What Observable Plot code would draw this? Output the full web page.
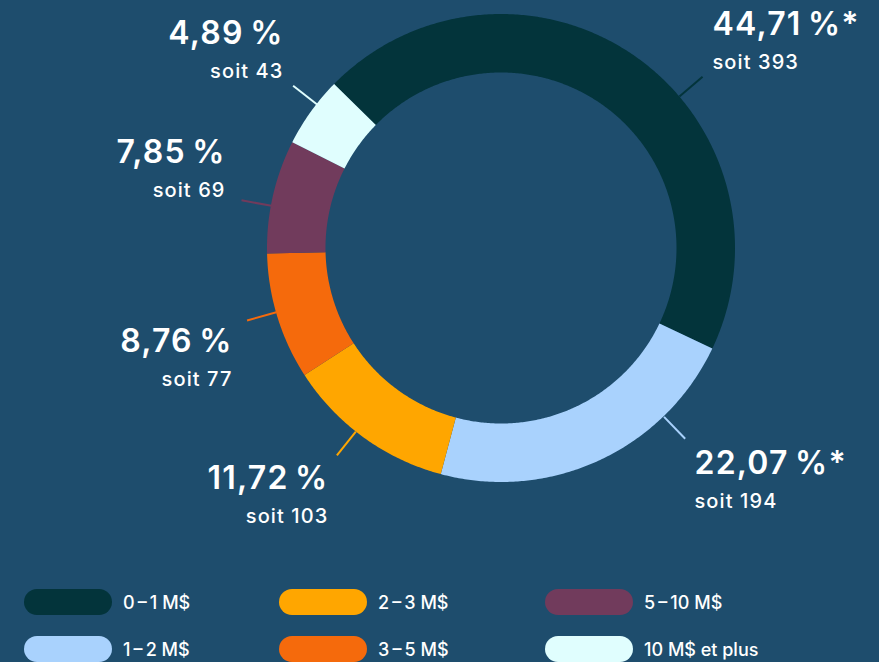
<!DOCTYPE html>
<html><head><meta charset="utf-8">
<script src="https://cdn.jsdelivr.net/npm/d3@7"></script>
<script src="https://cdn.jsdelivr.net/npm/@observablehq/plot@0.6"></script>
<style>
html,body{margin:0;padding:0;background:#1e4d6d;}
body{width:879px;height:662px;overflow:hidden;font-family:Inter,"Noto Sans",sans-serif;}
#chart svg{display:block;}
#chart g[font-size="32"]{letter-spacing:1.2px;}
#chart g[font-size="20"]{letter-spacing:1.1px;}
#legend{display:grid;grid-template-columns:255px 266px 220px;grid-template-rows:26px 26px;grid-auto-flow:column;row-gap:21px;padding-left:24px;margin-top:14px;}
.item{display:flex;align-items:center;height:26px;color:#fff;font-size:18px;font-weight:500;white-space:nowrap;}
.pill{width:88px;height:26px;border-radius:13px;margin-right:11px;flex:none;}
</style></head><body><div id="chart"></div><div id="legend"></div>
<script>
// ---- data ----
const categories = ["0\u2009\u2013\u20091 M$", "1\u2009\u2013\u20092 M$", "2\u2009\u2013\u20093 M$", "3\u2009\u2013\u20095 M$", "5\u2009\u2013\u200910 M$", "10 M$ et plus"];
const percents = [44.71, 22.07, 11.72, 8.76, 7.85, 4.89];
const counts = [393, 194, 103, 77, 69, 43];
const notes = ["*", "*", "", "", "", ""];
const colors = ["#03343b", "#a9d2fd", "#ffa600", "#f56a0c", "#713b5c", "#e0fefe"];

// ---- layout (polar, in units of outer radius) ----
const W = 879, H = 575, CX = 501, CY = 248, R = 234;
const innerR = 0.75;
const startAngle = -45.5;
const leaderAngles = [49.5, 136, 218.5, 254.2, -79.5, -52];
const leaderOuter = 1.13;
const labelAngles = [44.6, 139.5, 215.7, 249.0, -72.7, -46.9];
const labelRadii = [1.284, 1.270, 1.268, 1.231, 1.235, 1.276];
const rightSide = [true, true, false, false, false, false];

const rad = a => a * Math.PI / 180;
const px = (a, r) => r * Math.sin(rad(a));
const py = (a, r) => r * Math.cos(rad(a));

const total = d3.sum(percents);
const pts = [];
let acc = startAngle;
const rows = categories.map((cat, i) => {
  const a0 = acc, a1 = acc + percents[i] / total * 360;
  acc = a1;
  const n = Math.max(2, Math.ceil((a1 - a0) / 0.5));
  for (let k = 0; k <= n; k++) {
    const a = a0 + (a1 - a0) * k / n;
    pts.push({cat, xo: px(a, 1), yo: py(a, 1), xi: px(a, innerR), yi: py(a, innerR)});
  }
  const fmt = percents[i].toFixed(2).replace(".", ",");
  return {
    cat,
    big: fmt + "\u2009%" + notes[i],
    small: "soit " + counts[i],
    lx1: px(leaderAngles[i], 1), ly1: py(leaderAngles[i], 1),
    lx2: px(leaderAngles[i], leaderOuter), ly2: py(leaderAngles[i], leaderOuter),
    tx: px(labelAngles[i], labelRadii[i]), ty: py(labelAngles[i], labelRadii[i]),
    right: rightSide[i]
  };
});

const textMarks = (filter, anchor) => [
  Plot.text(rows.filter(filter), {x: "tx", y: "ty", text: "big", textAnchor: anchor, lineAnchor: "bottom",
    fill: "#ffffff", fontSize: 32, fontWeight: 600}),
  Plot.text(rows.filter(filter), {x: "tx", y: "ty", text: "small", textAnchor: anchor, lineAnchor: "bottom",
    dy: 34, fill: "#ffffff", fontSize: 20, fontWeight: 500})
];

const chart = Plot.plot({
  width: W, height: H,
  margin: 0,
  style: {background: "transparent", fontFamily: "Inter, 'Noto Sans', sans-serif"},
  x: {domain: [-CX / R, (W - CX) / R], range: [0, W], axis: null},
  y: {domain: [-(H - CY) / R, CY / R], range: [H, 0], axis: null},
  color: {domain: categories, range: colors},
  marks: [
    Plot.area(pts, {x1: "xo", y1: "yo", x2: "xi", y2: "yi", z: "cat", fill: "cat"}),
    Plot.link(rows, {x1: "lx1", y1: "ly1", x2: "lx2", y2: "ly2", stroke: "cat", strokeWidth: 2}),
    ...textMarks(d => d.right, "start"),
    ...textMarks(d => !d.right, "end")
  ]
});
document.getElementById("chart").append(chart);

const legend = document.getElementById("legend");
categories.forEach((c, i) => {
  const it = document.createElement("div");
  it.className = "item";
  const p = document.createElement("span");
  p.className = "pill";
  p.style.background = colors[i];
  it.append(p, document.createTextNode(c));
  legend.append(it);
});
</script></body></html>
